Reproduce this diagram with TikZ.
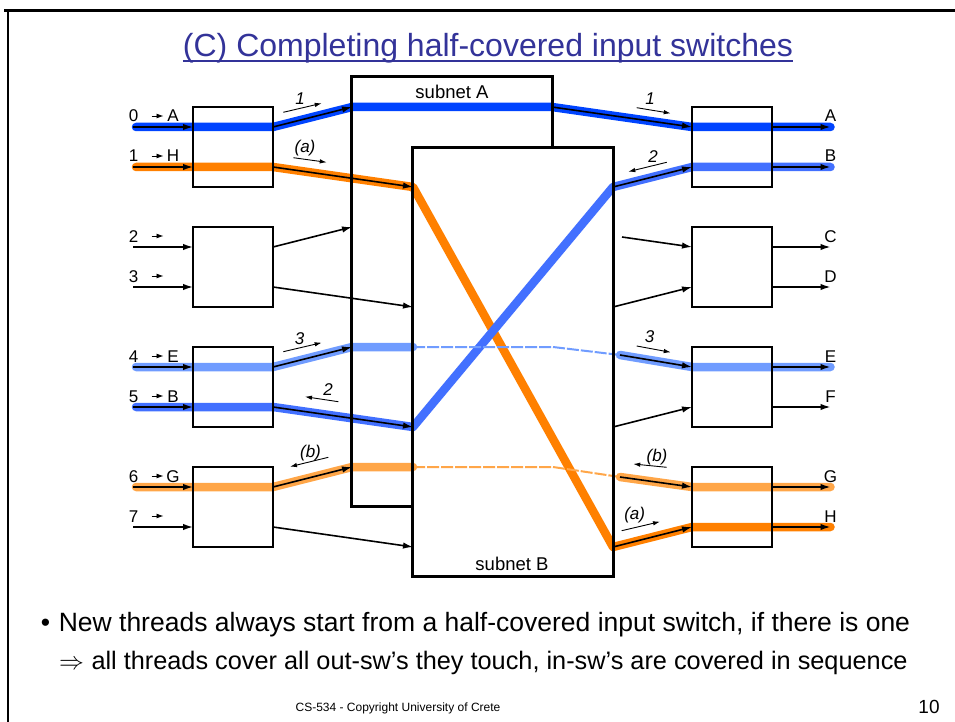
\documentclass[tikz,border=0pt]{standalone}
\usepackage{fontspec}
\setmainfont{Liberation Sans}
\usetikzlibrary{arrows.meta}
\definecolor{dblue}{RGB}{0,68,255}
\definecolor{mblue}{RGB}{66,112,255}
\definecolor{lblue}{RGB}{112,156,255}
\definecolor{dorange}{RGB}{255,128,0}
\definecolor{lorange}{RGB}{255,166,72}
\definecolor{titleblue}{RGB}{51,51,153}
\begin{document}
\begin{tikzpicture}[x=1pt,y=-1pt,
  swbox/.style={draw,line width=2.7pt,minimum width=80pt,minimum height=80pt,inner sep=0pt},
  netfill/.style={fill=white,minimum width=200pt,inner sep=0pt},
  netline/.style={line width=2.7pt,line join=miter},
  thread/.style={line width=8.5pt,line cap=round,line join=round},
  ghost/.style={line width=2pt,dash pattern=on 12pt off 2pt,line join=round},
  arr/.style={line width=1.6pt,-{Latex[length=10pt,width=6.5pt]}},
  tinyarr/.style={line width=0.9pt,-{Latex[length=7pt,width=4.5pt]}},
  lbl/.style={font=\fontsize{17}{17}\selectfont,inner sep=0pt,anchor=base},
  ilbl/.style={font=\fontsize{17}{17}\selectfont\itshape,inner sep=0pt},
]
\useasboundingbox (0,0) rectangle (955,722);
% slide frame
\draw[line width=2.6pt] (4,10.5) -- (955,10.5);
\draw[line width=2.6pt] (7.8,10.5) -- (7.8,722);
% title
\node[font=\fontsize{32}{38}\selectfont,text=titleblue,anchor=base,inner sep=0pt] (title) at (488,57) {(C) Completing half-covered input switches};
\draw[titleblue,line width=2.4pt] ([yshift=-4pt]title.base west) -- ([yshift=-4pt]title.base east);

% coordinates
\foreach \i in {0,1,2,3}{
  \pgfmathsetmacro\T{107+120*\i}
  \pgfmathsetmacro\Ua{\T+20}
  \pgfmathsetmacro\Ub{\T+60}
  \pgfmathsetmacro\Bt{\T+80}
  \coordinate (inS\i a) at (133,\Ua);
  \coordinate (inS\i b) at (133,\Ub);
  \coordinate (inL\i a) at (193,\Ua);
  \coordinate (inL\i b) at (193,\Ub);
  \coordinate (inR\i a) at (273,\Ua);
  \coordinate (inR\i b) at (273,\Ub);
  \coordinate (A\i) at (352,\T);
  \coordinate (B\i) at (413,\Bt);
  \coordinate (Ar\i) at (552,\T);
  \coordinate (Br\i) at (613,\Bt);
  \coordinate (outL\i a) at (692,\Ua);
  \coordinate (outL\i b) at (692,\Ub);
  \coordinate (outR\i a) at (772,\Ua);
  \coordinate (outR\i b) at (772,\Ub);
  \coordinate (outE\i a) at (830.5,\Ua);
  \coordinate (outE\i b) at (830.5,\Ub);
  \coordinate (Bl\i) at (413,\T);
  \coordinate (Gm\i) at (553,\T);
}
\coordinate (G1e) at (622,237);
\coordinate (G2e) at (620,355);
\coordinate (G3e) at (620,477);

% subnets (fills)
\node[netfill,minimum height=429pt] (netA) at (452,291.5) {};
\node[netfill,minimum height=428pt] (netB) at (513,362) {};

% threads
\draw[thread,dblue] ([xshift=3pt]inS0a) -- (inR0a) -- (A0) -- (Ar0) -- (outL0a) -- (outE0a);
\draw[thread,dorange] ([xshift=3pt]inS0b) -- (inR0b) -- (B0) -- (Br3) -- (outL3b) -- (outE3b);
\draw[thread,mblue] ([xshift=3pt]inS2b) -- (inR2b) -- (B2) -- (Br0) -- (outL0b) -- (outE0b);
\draw[thread,lblue] ([xshift=3pt]inS2a) -- (inR2a) -- (A2) -- (Bl2);
\draw[ghost,lblue] (Bl2) -- (Gm2) -- (G2e);
\draw[thread,lblue] (G2e) -- (outL2a) -- (outE2a);
\draw[thread,lorange] ([xshift=3pt]inS3a) -- (inR3a) -- (A3) -- (Bl3);
\draw[ghost,lorange] (Bl3) -- (Gm3) -- (G3e);
\draw[thread,lorange] (G3e) -- (outL3a) -- (outE3a);

% subnet outlines
\draw[netline] (netB.north west |- netA.south) -- (netA.south west) -- (netA.north west) -- (netA.north east) -- (netA.east |- netB.north);
\draw[netline] (netB.north west) rectangle (netB.south east);
\node[font=\fontsize{18.5}{18.5}\selectfont,inner sep=0pt] (labA) at (452,92) {subnet A};
\node[font=\fontsize{18.5}{18.5}\selectfont,inner sep=0pt] (labB) at (512,564) {subnet B};

% switches
\foreach \i in {0,1,2,3}{
  \pgfmathsetmacro\C{147+120*\i}
  \node[swbox] (in\i) at (233,\C) {};
  \node[swbox] (out\i) at (732,\C) {};
}

% black arrows
\foreach \i in {0,1,2,3}{
  \draw[arr] (inS\i a) -- (inL\i a);
  \draw[arr] (inS\i b) -- (inL\i b);
  \draw[arr] (outR\i a) -- (outE\i a);
  \draw[arr] (outR\i b) -- (outE\i b);
  \draw[arr] (inR\i a) -- (A\i);
  \draw[arr] (inR\i b) -- (B\i);
  \draw[arr] (Br\i) -- (outL\i b);
}
\draw[arr] (Ar0) -- (outL0a);
\draw[arr] (G1e) -- (outL1a);
\draw[arr] (G2e) -- (outL2a);
\draw[arr] (G3e) -- (outL3a);

% input labels
\foreach \y/\d/\l in {127/0/A,167/1/H,247/2/,287/3/,367/4/E,407/5/B,487/6/G,527/7/}{
  \node[lbl] (ld\d) at (133.5,\y-5) {\d};
  \coordinate (la\d) at (151.5,\y-11);
  \coordinate (lb\d) at (163.5,\y-11);
  \draw[line width=0.9pt,-{Latex[length=7pt,width=5pt]}] (la\d) -- (lb\d);
  \node[lbl] (ll\d) at (173,\y-5) {\l};
}
% output labels
\foreach \y/\l in {127/A,167/B,247/C,287/D,367/E,407/F,487/G,527/H}{
  \node[lbl] (lo\l) at (830.5,\y-5) {\l};
}

% direction hints
\foreach \n/\t/\tx/\ty/\ax/\ay/\bx/\by in {
  1/1/300/99/283.3/112.3/321.7/103.3,
  2/(a)/305/148/293.3/157.7/326.7/162.3,
  3/1/650/98.7/636.7/107.7/670.7/113.3,
  4/2/653/157/666.7/162.3/628.3/171.7,
  5/3/299.5/339/283.3/351.7/321.7/342.7,
  6/2/328/390/338.3/401.7/305/396.7,
  7/(b)/310.5/453/328.3/457.3/290/466.7,
  8/3/649.5/336.5/636.7/346/670.7/352.3,
  9/(b)/657/457/666.7/467.3/633.3/464,
  10/(a)/634.7/515/621.7/530.7/660/521.7}{
  \node[ilbl] (h\n) at (\tx,\ty) {\t};
  \coordinate (ha\n) at (\ax,\ay);
  \coordinate (hb\n) at (\bx,\by);
  \draw[tinyarr] (ha\n) -- (hb\n);
}

% bullet text
\node[font=\fontsize{26.5}{30}\selectfont,anchor=base,inner sep=0pt] (bul) at (45.5,631.7) {•};
\node[font=\fontsize{26.5}{30}\selectfont,anchor=base west,inner sep=0pt] (b1) at (58.6,631.7) {New threads always start from a half-covered input switch, if there is one};
\node[font=\fontsize{25.3}{30}\selectfont,anchor=base west,inner sep=0pt] (imp) at (59,669) {$\Rightarrow$};
\node[font=\fontsize{25.3}{30}\selectfont,anchor=base west,inner sep=0pt] (b2) at (91.3,669) {all threads cover all out-sw’s they touch, in-sw’s are covered in sequence};
\node[font=\fontsize{12}{14}\selectfont,anchor=base,inner sep=0pt] (foot) at (398,711) {CS-534 - Copyright University of Crete};
\node[font=\fontsize{19}{22}\selectfont,anchor=base,inner sep=0pt] (pg) at (929,713.5) {10};
\end{tikzpicture}
\end{document}
